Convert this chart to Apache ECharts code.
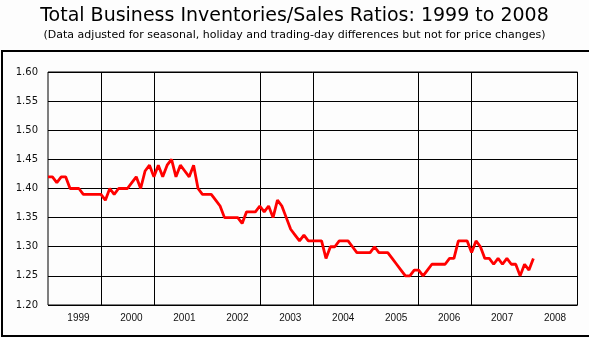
<!DOCTYPE html>
<html lang="en">
<head>
    <meta charset="UTF-8">
    <title>inventories_sales_ratio</title>
    <style type="text/css">
        html, body {
            margin: 0;
            padding: 0;
            background: #fdfdfd;
        }
        #box {
            width: 589px;
            height: 338px;
        }
    </style>
</head>
<body>
<div id="box"></div>
<script type="text/javascript" src="https://cdn.jsdelivr.net/npm/echarts@6/dist/echarts.min.js"></script>
<script type="text/javascript">
    // tick labels (one per year, Jan 1999 .. Dec 2008)
    let years = ['1999', '2000', '2001', '2002', '2003', '2004', '2005', '2006', '2007', '2008'];
    // months where the original draws a vertical grid line
    let gridMonths = [12, 24, 48, 60, 84, 96];
    // monthly ratio, Jan 1999 onwards
    let ratios = [
        1.42, 1.42, 1.41, 1.42, 1.42, 1.40, 1.40, 1.40, 1.39, 1.39, 1.39, 1.39,
        1.39, 1.38, 1.40, 1.39, 1.40, 1.40, 1.40, 1.41, 1.42, 1.40, 1.43, 1.44,
        1.42, 1.44, 1.42, 1.44, 1.45, 1.42, 1.44, 1.43, 1.42, 1.44, 1.40, 1.39,
        1.39, 1.39, 1.38, 1.37, 1.35, 1.35, 1.35, 1.35, 1.34, 1.36, 1.36, 1.36,
        1.37, 1.36, 1.37, 1.35, 1.38, 1.37, 1.35, 1.33, 1.32, 1.31, 1.32, 1.31,
        1.31, 1.31, 1.31, 1.28, 1.30, 1.30, 1.31, 1.31, 1.31, 1.30, 1.29, 1.29,
        1.29, 1.29, 1.30, 1.29, 1.29, 1.29, 1.28, 1.27, 1.26, 1.25, 1.25, 1.26,
        1.26, 1.25, 1.26, 1.27, 1.27, 1.27, 1.27, 1.28, 1.28, 1.31, 1.31, 1.31,
        1.29, 1.31, 1.30, 1.28, 1.28, 1.27, 1.28, 1.27, 1.28, 1.27, 1.27, 1.25,
        1.27, 1.26, 1.28
    ];

    let months = [];
    years.forEach(function (y) {
        for (let m = 1; m <= 12; m++) {
            months.push(y + '-' + (m < 10 ? '0' + m : m));
        }
    });
    months.push('2009-01');

    let myChart = echarts.init(document.getElementById('box'));
    let option = {
        backgroundColor: '#fdfdfd',
        animation: false,
        title: [
            {
                text: 'Total Business Inventories/Sales Ratios: 1999 to 2008',
                left: 'center',
                top: 2,
                textStyle: {fontFamily: 'DejaVu Sans', fontSize: 19, fontWeight: 'normal', color: '#000'}
            },
            {
                text: '(Data adjusted for seasonal, holiday and trading-day differences but not for price changes)',
                left: 'center',
                top: 25,
                textStyle: {fontFamily: 'DejaVu Sans', fontSize: 11, fontWeight: 'normal', color: '#000'}
            }
        ],
        graphic: [
            {
                type: 'rect',
                shape: {x: 2, y: 51, width: 600, height: 285},
                style: {fill: null, stroke: '#000', lineWidth: 2},
                silent: true
            }
        ],
        grid: {
            left: 48,
            right: 11.5,
            top: 72,
            bottom: 33,
            show: true,
            borderColor: '#000',
            borderWidth: 1,
            backgroundColor: 'transparent'
        },
        xAxis: {
            type: 'category',
            data: months,
            boundaryGap: false,
            axisLine: {show: false},
            axisTick: {show: false},
            axisLabel: {
                interval: function (index) {
                    return index % 12 === 6;
                },
                formatter: function (value) {
                    return value.slice(0, 4);
                },
                fontFamily: 'Liberation Sans',
                fontSize: 10,
                color: '#111',
                margin: 8,
                padding: [0, 0, 0, 8]
            },
            splitLine: {
                show: true,
                interval: function (index) {
                    return gridMonths.indexOf(index) >= 0;
                },
                lineStyle: {color: '#000', width: 1}
            }
        },
        yAxis: {
            type: 'value',
            min: 1.20,
            max: 1.60,
            interval: 0.05,
            axisLine: {show: false},
            axisTick: {show: false},
            axisLabel: {
                formatter: function (v) {
                    return v.toFixed(2);
                },
                fontFamily: 'DejaVu Sans',
                fontSize: 10,
                color: '#111',
                margin: 10
            },
            splitLine: {show: true, lineStyle: {color: '#000', width: 1}}
        },
        series: [
            {
                name: 'Inventories/Sales',
                type: 'line',
                data: ratios,
                showSymbol: false,
                lineStyle: {color: '#ff0000', width: 2.8},
                itemStyle: {color: '#ff0000'}
            }
        ]
    };
    myChart.setOption(option);
</script>
</body>
</html>
